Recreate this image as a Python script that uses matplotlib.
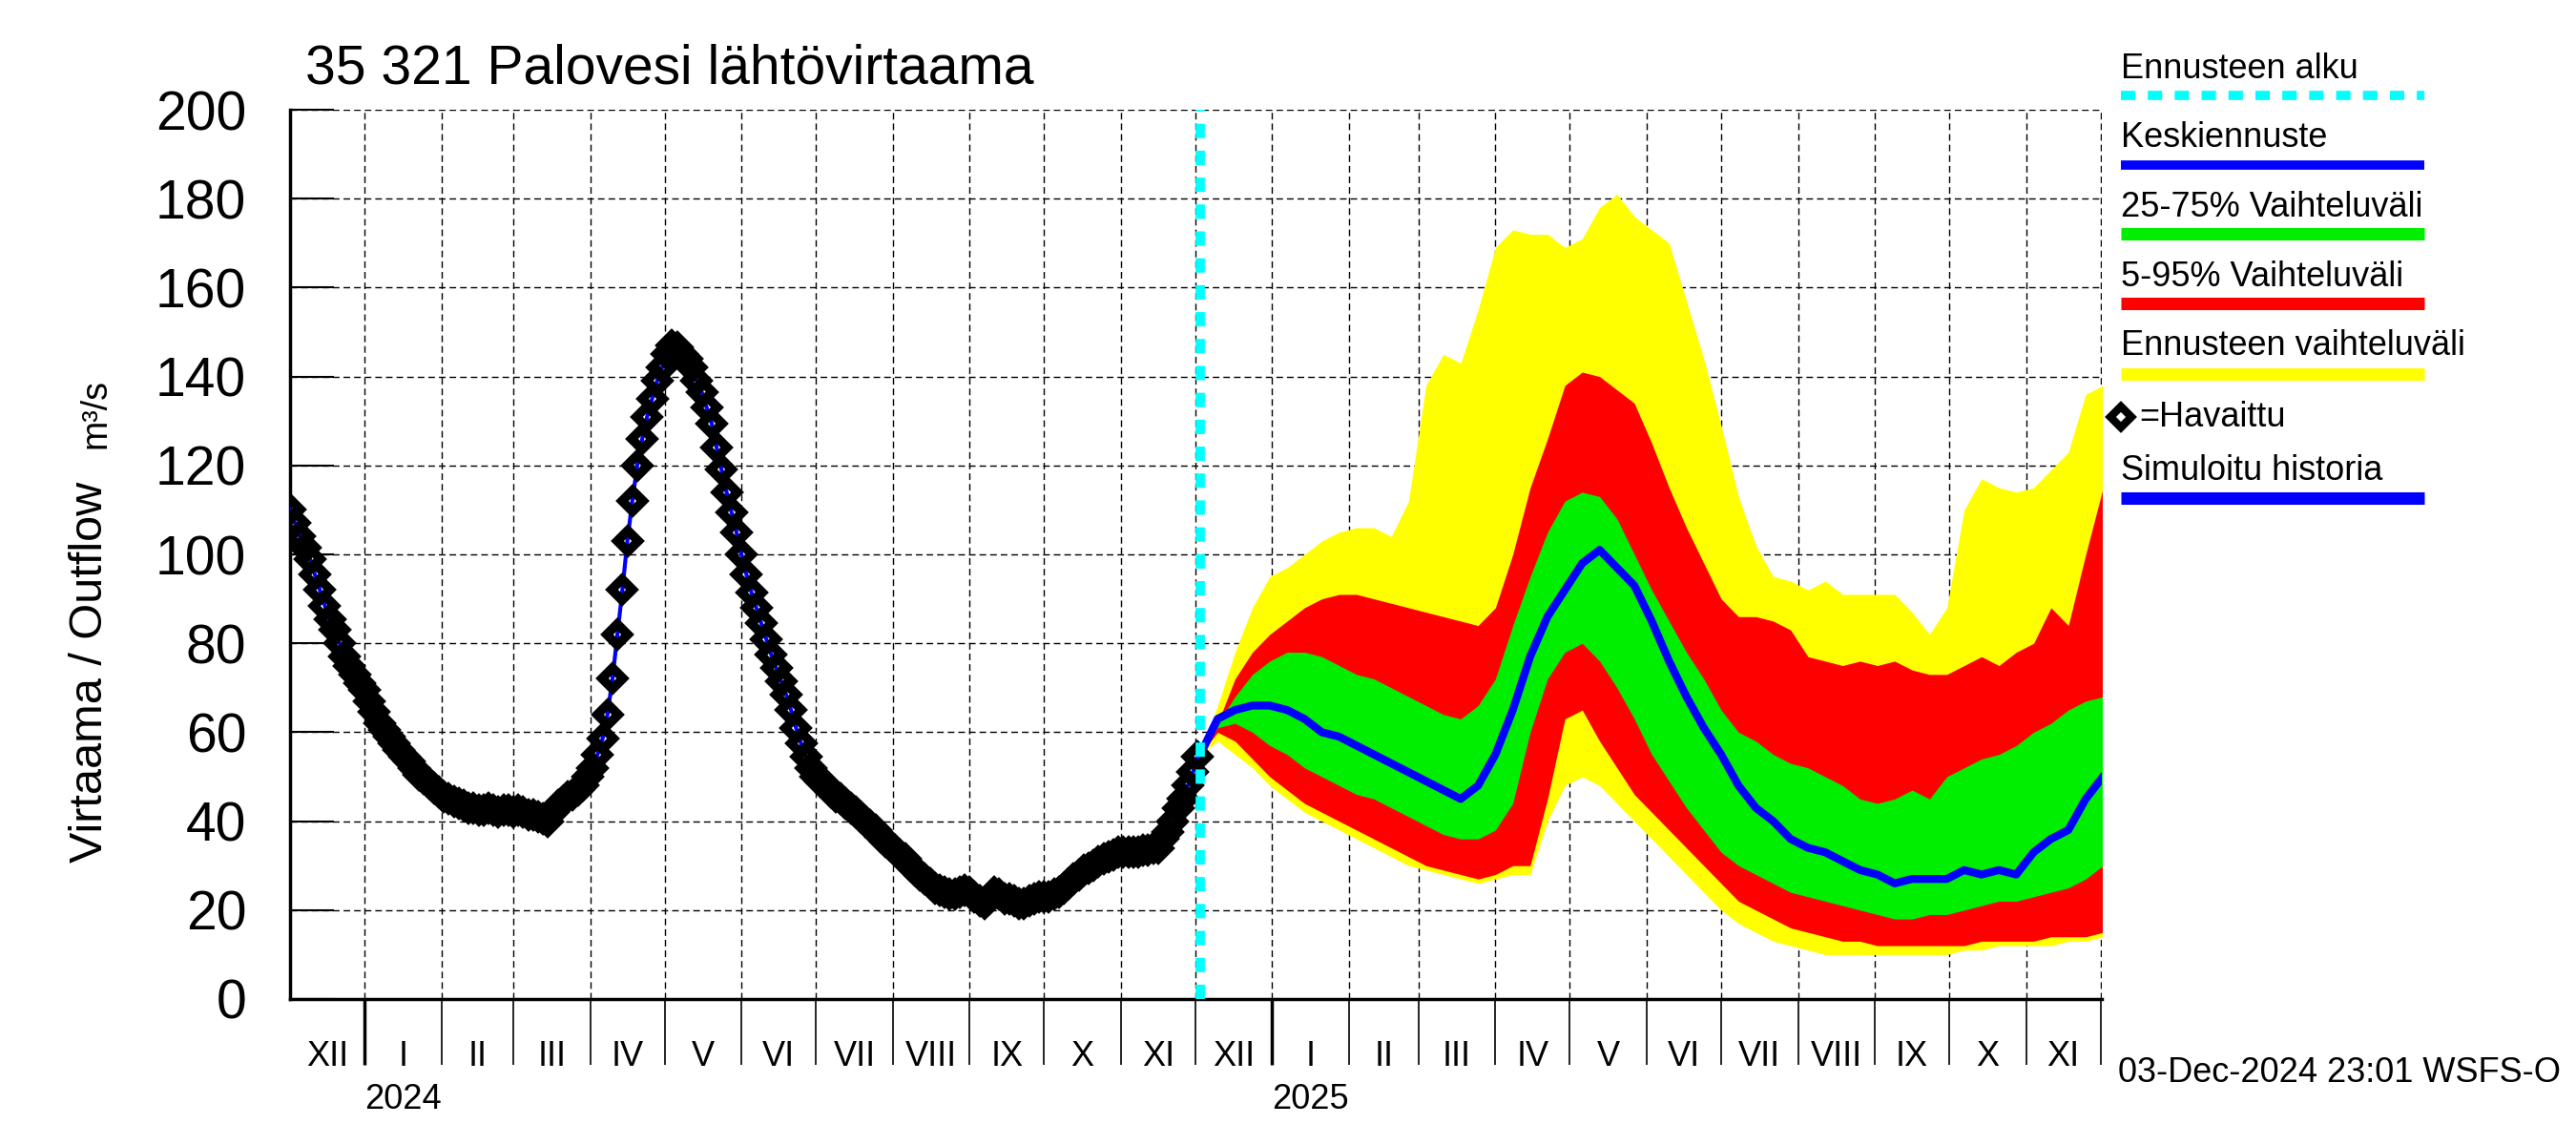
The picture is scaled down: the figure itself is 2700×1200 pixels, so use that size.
import matplotlib
matplotlib.use('Agg')
import matplotlib.pyplot as plt
import matplotlib.dates as mdates
import matplotlib.transforms as mtransforms
from matplotlib.lines import Line2D
import numpy as np
import pandas as pd

plt.rcParams['font.family'] = ['Liberation Sans', 'DejaVu Sans']

# havaittu virtaama, 2 päivän välein 2.12.2023 alkaen
obs_values = [
    110, 107, 104, 101.5, 99, 95.5, 92, 88.5, 85.5, 83, 80, 77, 75, 73, 71, 69.5,
    67, 64.5, 62, 60.5, 59, 57.5, 56, 54.5, 53.5, 52, 50.5, 49.5, 48.5, 47.5, 46.5,
    45.5, 45, 44.5, 44, 43.5, 43, 43, 42.5, 42.5, 43, 42.5, 42, 42.5, 42.5, 42,
    42.5, 42, 41.5, 41.5, 41, 40.5, 40, 42, 43.5, 44.5, 45.5, 46, 47, 48, 50, 52,
    55, 58.5, 64, 72, 82, 92, 103, 112, 120, 126, 131, 135, 139, 142, 145, 147,
    146.5, 145, 144, 142, 139, 136.5, 133, 129.5, 124, 119, 114, 109.5, 105, 100,
    95.5, 91.5, 88, 84.5, 81, 77.5, 74.5, 71.5, 68.5, 65, 61, 57.5, 54.5, 52, 50,
    49, 48, 46.5, 45.5, 45, 44, 43, 42, 41, 40, 39, 38, 36.5, 35.5, 34.5, 33.5,
    32.5, 31.5, 30, 29, 28, 27, 26, 25, 24.5, 24, 23.5, 23.5, 24, 24.5, 24, 23,
    22, 21.5, 22.5, 24, 23.5, 22.5, 22.5, 22, 21.5, 21.5, 22, 22.5, 23, 23, 23,
    23.5, 24, 25, 26, 27, 28, 29, 29.5, 30, 31, 31.5, 32, 32.5, 33, 33, 33, 33,
    33, 33.5, 33.5, 34, 34, 36, 37.5, 40, 43, 45, 48, 51, 54.5,
]
obs_dates = pd.date_range('2023-12-02', periods=len(obs_values), freq='2D')

# ennuste viikoittain 3.12.2024 alkaen
fc_dates = pd.date_range('2024-12-03', periods=53, freq='7D')
fc_max = [55, 66, 78, 88, 95, 97, 100, 103, 105, 106, 106, 104, 112, 138, 145, 143,
          155, 169, 173, 172, 172, 169, 171, 178, 181, 176, 173, 170, 157, 144, 129,
          113, 102, 95, 94, 92, 94, 91, 91, 91, 91, 87, 82, 88, 110, 117, 115, 114,
          115, 119, 123, 136, 138]
fc_p95 = [55, 62, 72, 78, 82, 85, 88, 90, 91, 91, 90, 89, 88, 87, 86, 85, 84, 88,
          100, 115, 126, 138, 141, 140, 137, 134, 125, 115, 106, 98, 90, 86, 86, 85,
          83, 77, 76, 75, 76, 75, 76, 74, 73, 73, 75, 77, 75, 78, 80, 88, 84, 100, 115]
fc_p75 = [55, 62, 68, 73, 76, 78, 78, 77, 75, 73, 72, 70, 68, 66, 64, 63, 66, 72,
          84, 95, 105, 112, 114, 113, 108, 100, 92, 85, 78, 72, 65, 60, 58, 55, 53,
          52, 50, 48, 45, 44, 45, 47, 45, 50, 52, 54, 55, 57, 60, 62, 65, 67, 68]
fc_median = [55, 63, 65, 66, 66, 65, 63, 60, 59, 57, 55, 53, 51, 49, 47, 45, 48, 55,
             65, 77, 86, 92, 98, 101, 97, 93, 85, 76, 68, 61, 55, 48, 43, 40, 36, 34,
             33, 31, 29, 28, 26, 27, 27, 27, 29, 28, 29, 28, 33, 36, 38, 45, 50]
fc_p25 = [55, 61, 62, 60, 57, 55, 52, 50, 48, 46, 45, 43, 41, 39, 37, 36, 36, 38,
          44, 60, 72, 78, 80, 76, 70, 63, 55, 49, 43, 38, 33, 30, 28, 26, 24, 23, 22,
          21, 20, 19, 18, 18, 19, 19, 20, 21, 22, 22, 23, 24, 25, 27, 30]
fc_p05 = [55, 60, 58, 54, 50, 47, 44, 42, 40, 38, 36, 34, 32, 30, 29, 28, 27, 28,
          30, 30, 45, 63, 65, 58, 52, 46, 42, 38, 34, 30, 26, 22, 20, 18, 16, 15, 14,
          13, 13, 12, 12, 12, 12, 12, 12, 13, 13, 13, 13, 14, 14, 14, 15]
fc_min = [55, 58, 55, 52, 48, 45, 42, 40, 38, 36, 34, 32, 30, 29, 28, 27, 26, 27,
          28, 28, 40, 48, 50, 48, 44, 40, 36, 32, 28, 24, 20, 17, 15, 13, 12, 11, 10,
          10, 10, 10, 10, 10, 10, 10, 11, 11, 12, 12, 12, 12, 13, 13, 14]

forecast_start = pd.Timestamp('2024-12-03')
x_start = pd.Timestamp('2023-12-02')
x_end = pd.Timestamp('2025-12-01 12:00')
month_names = ['I', 'II', 'III', 'IV', 'V', 'VI', 'VII', 'VIII', 'IX', 'X', 'XI', 'XII']

W, H = 2700, 1200
fig = plt.figure(figsize=(27, 12), dpi=100)
ax = fig.add_axes([304 / W, 1 - 1047 / H, (2203 - 304) / W, (1047 - 115) / H])

ax.fill_between(fc_dates, fc_min, fc_max, color='#ffff00', lw=0, zorder=2)
ax.fill_between(fc_dates, fc_p05, fc_p95, color='#ff0000', lw=0, zorder=3)
ax.fill_between(fc_dates, fc_p25, fc_p75, color='#00ee00', lw=0, zorder=4)
ax.plot(fc_dates, fc_median, color='#0000ff', lw=6, zorder=5)

ax.plot(obs_dates, obs_values, color='#0000ff', lw=3, zorder=6)
ax.plot(obs_dates, obs_values, ls='none', marker='D', ms=11, mfc='none',
        mec='black', mew=7, zorder=7)

ax.axvline(forecast_start, color='#00ffff', lw=7, ls=(0, (1.55, 1.35)), zorder=8)

ax.set_xlim(x_start, x_end)
ax.set_ylim(0, 200)
ax.set_yticks(np.arange(0, 201, 20))
ax.tick_params(axis='y', direction='in', length=33, width=1.5, labelsize=41, pad=33)

ax.xaxis.set_major_locator(mdates.YearLocator())
ax.xaxis.set_minor_locator(mdates.MonthLocator())
ax.tick_params(axis='x', which='major', direction='out', length=50, width=2.5,
               labelbottom=False)
ax.tick_params(axis='x', which='minor', direction='out', length=50, width=1.2,
               labelbottom=False)

ax.set_axisbelow(True)
ax.grid(True, which='both', axis='x', color='black', ls=(0, (5, 3)), lw=1)
ax.grid(True, which='major', axis='y', color='black', ls=(0, (5, 3)), lw=1)

for side in ['top', 'right']:
    ax.spines[side].set_visible(False)
for side in ['left', 'bottom']:
    ax.spines[side].set_linewidth(2.5)

trans = mtransforms.blended_transform_factory(ax.transData, ax.transAxes)
months = pd.date_range('2023-12-01', '2025-11-01', freq='MS')
for m in months:
    m_end = m + pd.offsets.MonthBegin(1)
    a = max(m, x_start)
    b = min(m_end, x_end)
    center = a + (b - a) / 2
    ax.text(center, -0.0644, month_names[m.month - 1], transform=trans,
            ha='center', va='center', fontsize=26)
    if m.month == 1:
        ax.text(m + (m_end - m) / 2, -0.1137, str(m.year), transform=trans,
                ha='center', va='center', fontsize=26)

fig.text(320 / W, 1 - 87 / H, '35 321 Palovesi lähtövirtaama', fontsize=41,
         ha='left', va='baseline')
fig.text(95 / W, 1 - 704 / H, 'Virtaama / Outflow', fontsize=35,
         rotation=90, ha='center', va='center')
fig.text(100 / W, 1 - 433 / H, 'm³/s', fontsize=27,
         rotation=90, ha='center', va='center')
fig.text(2220 / W, 1 - 1125 / H, '03-Dec-2024 23:01 WSFS-O', fontsize=26,
         ha='left', va='center')

# selite
lx0, lx1 = 2223 / W, 2541 / W
legend_items = [
    ('Ennusteen alku', 72, 100, '#00ffff', 7, (0, (1.55, 1.35))),
    ('Keskiennuste', 145, 173, '#0000ff', 7, '-'),
    ('25-75% Vaihteluväli', 217, 245, '#00ee00', 9.4, '-'),
    ('5-95% Vaihteluväli', 290, 318, '#ff0000', 9.4, '-'),
    ('Ennusteen vaihteluväli', 363, 392, '#ffff00', 9.4, '-'),
    ('Simuloitu historia', 493, 522, '#0000ff', 9.4, '-'),
]
for label, ty, ly, col, lw, ls in legend_items:
    fig.text(lx0, 1 - ty / H, label, fontsize=26, ha='left', va='center')
    fig.add_artist(Line2D([lx0, lx1], [1 - ly / H, 1 - ly / H], color=col, lw=lw,
                          ls=ls, solid_capstyle='butt', dash_capstyle='butt'))
fig.add_artist(Line2D([2223 / W], [1 - 437 / H], ls='none', marker='D', ms=11,
                      mfc='white', mec='black', mew=6))
fig.text(2242 / W, 1 - 437 / H, '=Havaittu', fontsize=26, ha='left', va='center')

fig.savefig('out.png', dpi=100)
